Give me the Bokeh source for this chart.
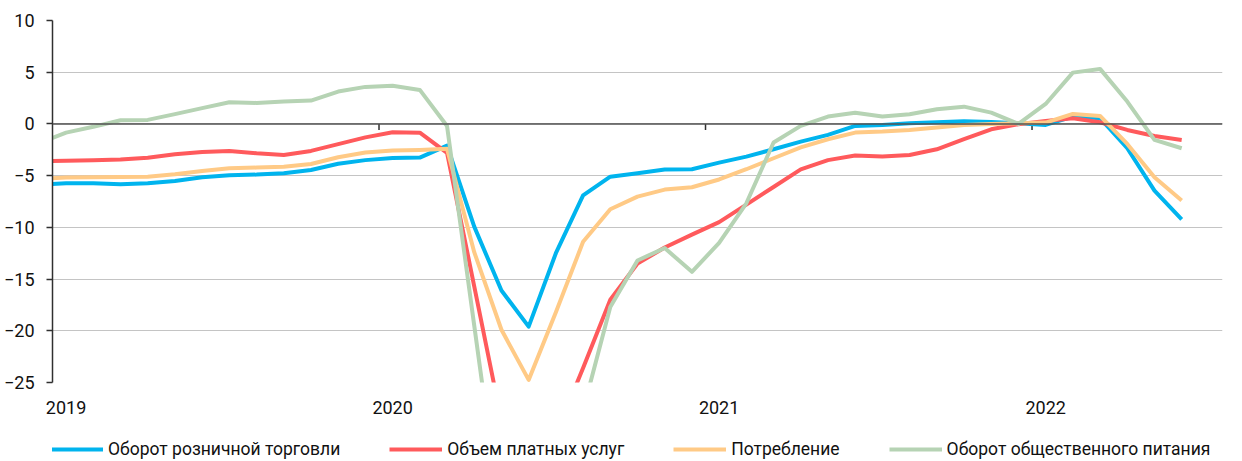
import pandas as pd
from bokeh.plotting import figure
from bokeh.layouts import column
from bokeh.models import FixedTicker, Span, Legend, LegendItem, ColumnDataSource, Range1d
from bokeh.embed import file_html
from bokeh.resources import INLINE

# ---- data (monthly, Dec 2018 .. Jun 2022) ----
start_month = "2018-12"
retail = [-5.85, -5.74, -5.74, -5.83, -5.74, -5.51, -5.16, -4.96, -4.90, -4.77, -4.45, -3.85, -3.50,
          -3.30, -3.25, -2.10, -9.93, -16.1, -19.6, -12.5, -6.9, -5.1, -4.77, -4.4, -4.38,
          -3.74, -3.16, -2.45, -1.71, -1.06, -0.19, -0.1, 0.06, 0.16, 0.26, 0.19, 0.06,
          -0.1, 0.71, 0.55, -2.35, -6.45, -9.22]
services = [-3.6, -3.55, -3.52, -3.45, -3.26, -2.93, -2.71, -2.61, -2.84, -3.0, -2.61, -1.95, -1.3,
            -0.8, -0.85, -2.8, -15.7, -28.7, -36.0, -30.0, -23.6, -17.0, -13.5, -11.95, -10.7,
            -9.5, -7.8, -6.1, -4.4, -3.5, -3.06, -3.16, -3.0, -2.45, -1.48, -0.52, -0.03,
            0.29, 0.55, 0.16, -0.58, -1.16, -1.55]
consumption = [-5.3, -5.19, -5.16, -5.13, -5.1, -4.87, -4.55, -4.29, -4.22, -4.13, -3.87, -3.22, -2.77,
               -2.58, -2.51, -2.4, -12.4, -19.9, -24.75, -18.2, -11.4, -8.25, -7.03, -6.35, -6.12,
               -5.37, -4.38, -3.32, -2.26, -1.48, -0.84, -0.74, -0.58, -0.35, -0.1, 0.0, 0.06,
               0.13, 0.97, 0.77, -1.93, -5.16, -7.41]
catering = [-1.87, -0.84, -0.28, 0.36, 0.39, 0.95, 1.53, 2.1, 2.03, 2.16, 2.26, 3.13, 3.58,
            3.7, 3.29, -0.2, -19.5, -38.7, -45.0, -40.0, -27.7, -17.7, -13.2, -12.0, -14.3,
            -11.5, -7.67, -1.8, -0.19, 0.71, 1.09, 0.71, 0.94, 1.42, 1.67, 1.09, 0.0,
            1.93, 4.96, 5.32, 2.16, -1.55, -2.35]
series_keys = ["retail", "services", "consumption", "catering"]
series_names = ["Оборот розничной торговли", "Объем платных услуг", "Потребление",
                "Оборот общественного питания"]
series_colors = ["#00B4EE", "#FF5A5C", "#FFCA86", "#B6D3B4"]
years = [2019, 2020, 2021, 2022]
y_ticks = [-25, -20, -15, -10, -5, 0, 5, 10]

months = pd.date_range(start_month, periods=len(retail), freq="MS")
x = [(d.year - years[0]) * 12 + (d.month - 1) + 0.5 for d in months]

FONT = "Roboto"
TXT = "#111111"
FULL_W = 1241

p = figure(frame_width=1170, frame_height=362, output_backend="svg", toolbar_location=None,
           x_range=Range1d(0, 43.0), y_range=Range1d(-25, 10),
           min_border_left=51, min_border_right=FULL_W - 51 - 1170, min_border_top=20,
           min_border_bottom=48)
p.outline_line_color = None
p.background_fill_color = "white"
p.border_fill_color = "white"

# grid
p.xgrid.grid_line_color = None
p.ygrid.ticker = FixedTicker(ticks=y_ticks)
p.ygrid.grid_line_color = "#C4C4C4"
p.ygrid.grid_line_width = 1

# y axis
p.yaxis.ticker = FixedTicker(ticks=y_ticks)
p.yaxis.axis_line_color = "#303030"
p.yaxis.axis_line_width = 1.5
p.yaxis.major_tick_line_color = "#303030"
p.yaxis.major_tick_line_width = 1.5
p.yaxis.major_tick_out = 6
p.yaxis.major_tick_in = 0
p.yaxis.minor_tick_line_color = None
p.yaxis.major_label_standoff = 12
p.yaxis.major_label_text_font = FONT
p.yaxis.major_label_text_font_size = "18px"
p.yaxis.major_label_text_color = TXT

# x axis: labels centred under January of each year
label_pos = [(yr - years[0]) * 12 + 0.5 for yr in years]
p.xaxis.ticker = FixedTicker(ticks=label_pos)
p.xaxis.major_label_overrides = {lp: str(yr) for lp, yr in zip(label_pos, years)}
p.xaxis.axis_line_color = None
p.xaxis.major_tick_line_color = None
p.xaxis.minor_tick_line_color = None
p.xaxis.major_tick_out = 0
p.xaxis.major_tick_in = 0
p.xaxis.major_label_standoff = 18
p.xaxis.major_label_text_font = FONT
p.xaxis.major_label_text_font_size = "18px"
p.xaxis.major_label_text_color = TXT

# zero line with year tick marks
p.add_layout(Span(location=0, dimension="width", line_color="#505050", line_width=1.6))
year_bounds = [(yr - years[0]) * 12 for yr in years[1:]]
p.segment(x0=year_bounds, x1=year_bounds, y0=[0] * len(year_bounds), y1=[-0.58] * len(year_bounds),
          line_color="#303030", line_width=1.5)

src = ColumnDataSource(dict(x=x, retail=retail, services=services,
                            consumption=consumption, catering=catering))
for key, col in zip(series_keys, series_colors):
    p.line("x", key, source=src, line_color=col, line_width=4, line_join="round")

# ---- legend strip (separate small figure under the chart, no axes) ----
lg = figure(width=FULL_W, height=29, output_backend="svg", toolbar_location=None,
            x_range=Range1d(0, 1), y_range=Range1d(100, 101),
            x_axis_location=None, y_axis_location=None,
            min_border_left=0, min_border_right=0, min_border_top=0, min_border_bottom=0)
lg.grid.visible = False
lg.outline_line_color = None
lg.background_fill_color = "white"
lg.border_fill_color = "white"
swatches = []
for key, col in zip(series_keys, series_colors):
    # the series sit outside this strip's range, only their legend glyphs show
    swatches.append(lg.line("x", key, source=src, line_color=col, line_width=4))

legend = Legend(items=[LegendItem(label=n, renderers=[r]) for n, r in zip(series_names, swatches)],
                orientation="horizontal", location=(-2, 0),
                glyph_width=53, glyph_height=20, label_standoff=5, spacing=49,
                padding=0, margin=0, border_line_color=None, background_fill_alpha=0,
                label_text_font=FONT, label_text_font_size="17.5px", label_text_color=TXT)
lg.add_layout(legend)

layout = column(p, lg, spacing=0)
open("out.html", "w").write(file_html(layout, INLINE))
